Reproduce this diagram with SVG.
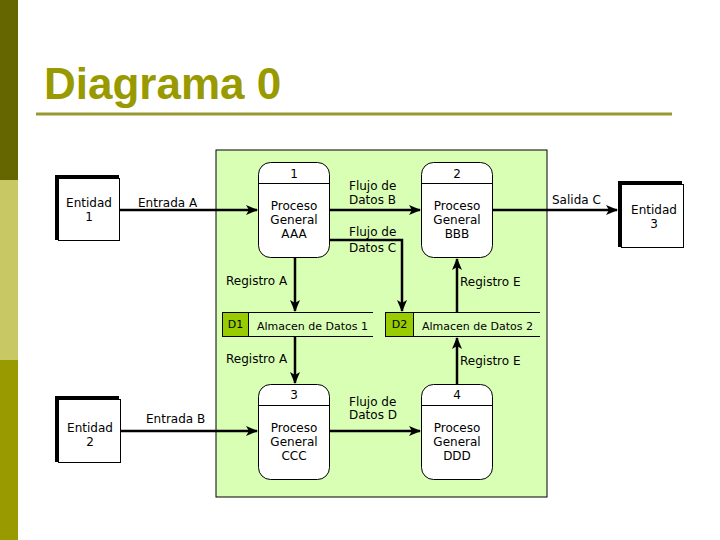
<svg xmlns="http://www.w3.org/2000/svg" width="720" height="540" viewBox="0 0 720 540">
<defs>
<style>
.t{font-family:"DejaVu Sans",Verdana,sans-serif;font-size:12px;fill:#000}
.s{font-family:"DejaVu Sans",Verdana,sans-serif;font-size:11px;fill:#000}
.c{text-anchor:middle}
.proc{fill:#fff;stroke:#000;stroke-width:1}
.ent{fill:#fff;stroke:#000;stroke-width:1}
.flow{fill:none;stroke:#000;stroke-width:2.5}
.store{fill:none;stroke:#000;stroke-width:1}
</style>
<marker id="ah" viewBox="0 0 12 12" markerWidth="12" markerHeight="12" refX="11" refY="6" orient="auto" markerUnits="userSpaceOnUse">
<path d="M0,1 L12,6 L0,11 L3,6 Z" fill="#000"/>
</marker>
</defs>
<rect x="0" y="0" width="720" height="540" fill="#fff"/>
<rect x="0" y="0" width="18" height="180" fill="#666600"/>
<rect x="0" y="180" width="18" height="180" fill="#c8c864"/>
<rect x="0" y="360" width="18" height="180" fill="#999900"/>
<text x="44" y="99" font-family="Liberation Sans,Arial,sans-serif" font-size="44" font-weight="bold" fill="#999900">Diagrama 0</text>
<line x1="36" y1="114" x2="672" y2="114" stroke="#999933" stroke-width="3"/>
<rect id="panel" x="216" y="150" width="331" height="347" fill="#d9ffb5" stroke="#000" stroke-width="1"/>

<g id="connectors">
<path class="flow" d="M120,210 H257" marker-end="url(#ah)"/>
<text class="t" x="138" y="207">Entrada A</text>
<path class="flow" d="M330,210 H420" marker-end="url(#ah)"/>
<text class="t" x="349" y="190">Flujo de</text>
<text class="t" x="349" y="204">Datos B</text>
<path class="flow" d="M330,240 H402 V311" marker-end="url(#ah)"/>
<text class="t" x="349" y="236">Flujo de</text>
<text class="t" x="349" y="252">Datos C</text>
<path class="flow" d="M492,210 H617" marker-end="url(#ah)"/>
<text class="t" x="552" y="204">Salida C</text>
<path class="flow" d="M295,258 V311" marker-end="url(#ah)"/>
<text class="t" x="226" y="285">Registro A</text>
<path class="flow" d="M457,312 V259" marker-end="url(#ah)"/>
<text class="t" x="460" y="286">Registro E</text>
<path class="flow" d="M295,337 V383" marker-end="url(#ah)"/>
<text class="t" x="226" y="363">Registro A</text>
<path class="flow" d="M457,384 V338" marker-end="url(#ah)"/>
<text class="t" x="460" y="365">Registro E</text>
<path class="flow" d="M121,431 H257" marker-end="url(#ah)"/>
<text class="t" x="146" y="423">Entrada B</text>
<path class="flow" d="M330,431 H420" marker-end="url(#ah)"/>
<text class="t" x="349" y="406">Flujo de</text>
<text class="t" x="349" y="419">Datos D</text>
</g>

<g id="entidad1">
<rect x="55" y="175" width="64" height="65" fill="#000"/>
<rect class="ent" x="58.5" y="178.5" width="61" height="62"/>
<text class="t c" x="89" y="207">Entidad</text>
<text class="t c" x="89" y="221">1</text>
</g>
<g id="entidad2">
<rect x="55" y="396" width="64" height="66" fill="#000"/>
<rect class="ent" x="58.5" y="399.5" width="62" height="63"/>
<text class="t c" x="90" y="432">Entidad</text>
<text class="t c" x="90" y="446">2</text>
</g>
<g id="entidad3">
<rect x="618" y="181" width="64" height="66" fill="#000"/>
<rect class="ent" x="621.5" y="184.5" width="62" height="63"/>
<text class="t c" x="654" y="214">Entidad</text>
<text class="t c" x="654" y="228">3</text>
</g>

<g id="proceso1">
<rect class="proc" x="258.5" y="162.5" width="71" height="95" rx="12" ry="12"/>
<line x1="258.5" y1="183.5" x2="329.5" y2="183.5" stroke="#000"/>
<text class="t c" x="294" y="178">1</text>
<text class="t c" x="294" y="210">Proceso</text>
<text class="t c" x="294" y="224">General</text>
<text class="t c" x="294" y="238">AAA</text>
</g>
<g id="proceso2">
<rect class="proc" x="421.5" y="162.5" width="71" height="95" rx="12" ry="12"/>
<line x1="421.5" y1="183.5" x2="492.5" y2="183.5" stroke="#000"/>
<text class="t c" x="457" y="178">2</text>
<text class="t c" x="457" y="210">Proceso</text>
<text class="t c" x="457" y="224">General</text>
<text class="t c" x="457" y="238">BBB</text>
</g>
<g id="proceso3">
<rect class="proc" x="258.5" y="384.5" width="71" height="95" rx="12" ry="12"/>
<line x1="258.5" y1="405.5" x2="329.5" y2="405.5" stroke="#000"/>
<text class="t c" x="294" y="399">3</text>
<text class="t c" x="294" y="432">Proceso</text>
<text class="t c" x="294" y="446">General</text>
<text class="t c" x="294" y="460">CCC</text>
</g>
<g id="proceso4">
<rect class="proc" x="421.5" y="384.5" width="71" height="95" rx="12" ry="12"/>
<line x1="421.5" y1="405.5" x2="492.5" y2="405.5" stroke="#000"/>
<text class="t c" x="457" y="399">4</text>
<text class="t c" x="457" y="432">Proceso</text>
<text class="t c" x="457" y="446">General</text>
<text class="t c" x="457" y="460">DDD</text>
</g>

<g id="d1">
<rect x="222.5" y="312.5" width="26" height="24" fill="#99cc00" stroke="#000"/>
<path class="store" d="M248.5,312.5 H373 M248.5,336.5 H373"/>
<text class="s c" x="235.5" y="328">D1</text>
<text class="s" x="257" y="330">Almacen de Datos 1</text>
</g>
<g id="d2">
<rect x="385.5" y="312.5" width="28" height="24" fill="#99cc00" stroke="#000"/>
<path class="store" d="M413.5,312.5 H540 M413.5,336.5 H540"/>
<text class="s c" x="399.5" y="328">D2</text>
<text class="s" x="422" y="330">Almacen de Datos 2</text>
</g>
</svg>
